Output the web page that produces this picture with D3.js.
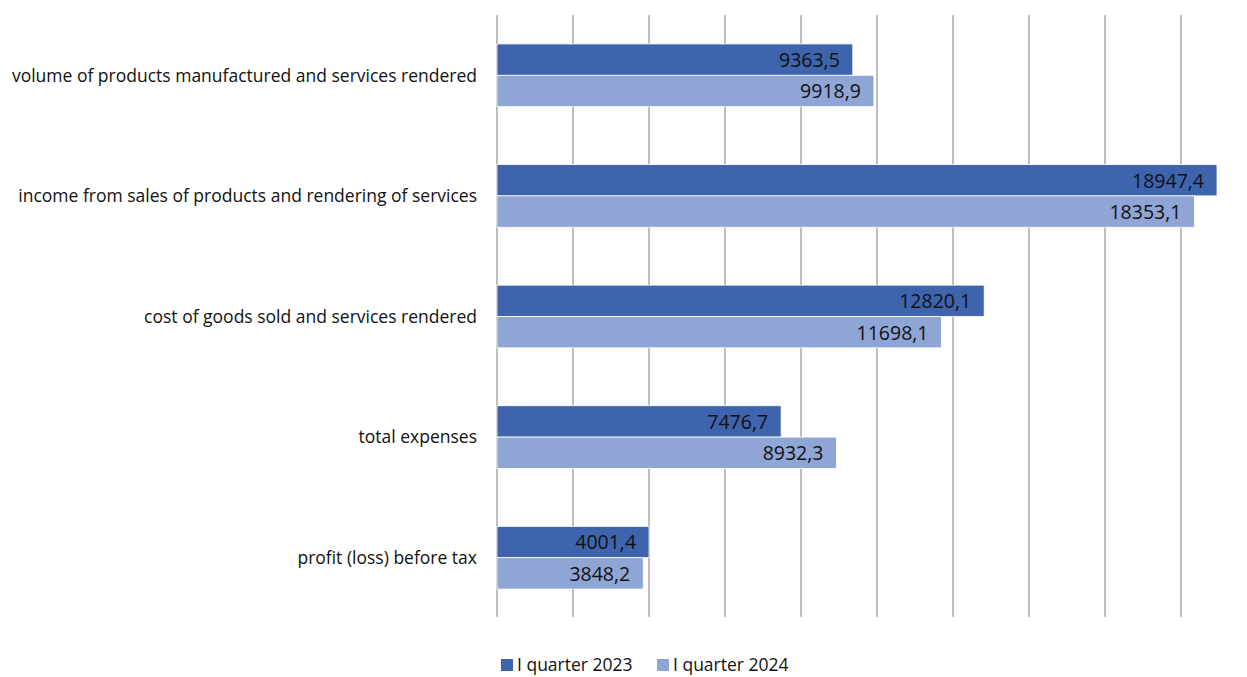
<!DOCTYPE html>
<html>
<head>
<meta charset="utf-8">
<script src="https://cdn.jsdelivr.net/npm/d3@7"></script>
<style>
  body { margin: 0; background: #fff; overflow: hidden; }
  text { font-family: "Open Sans", "Noto Sans", sans-serif; fill: #111; }
</style>
</head>
<body>
<div id="chart"></div>
<script>
const categories = [
  "volume of products manufactured and services rendered",
  "income from sales of products and rendering of services",
  "cost of goods sold and services rendered",
  "total expenses",
  "profit (loss) before tax"
];
const seriesNames = ["I quarter 2023", "I quarter 2024"];
const q2023 = [9363.5, 18947.4, 12820.1, 7476.7, 4001.4];
const q2024 = [9918.9, 18353.1, 11698.1, 8932.3, 3848.2];
const gridTicks = [0, 2000, 4000, 6000, 8000, 10000, 12000, 14000, 16000, 18000, 20000];

const colors = ["#3d64ad", "#8fa5d6"];
const width = 1247, height = 677;
const margin = { top: 15, left: 497, bottom: 60 };

const svg = d3.select("#chart").append("svg")
  .attr("width", width).attr("height", height);

const xScale = d3.scaleLinear()
  .domain([0, 20000])
  .range([margin.left, margin.left + 760]);

const yScale = d3.scaleBand()
  .domain(categories)
  .range([margin.top, 618])
  .paddingInner(0.48)
  .paddingOuter(0.24);

const inner = d3.scaleBand()
  .domain([0, 1])
  .range([0, yScale.bandwidth()]);

// vertical gridlines
svg.append("g")
  .selectAll("line")
  .data(gridTicks)
  .join("line")
  .attr("x1", d => xScale(d)).attr("x2", d => xScale(d))
  .attr("y1", margin.top).attr("y2", 617)
  .attr("stroke", "#9a9a9a")
  .attr("stroke-width", 1.3);

const rows = categories.map((c, i) => ({ cat: c, vals: [q2023[i], q2024[i]] }));

const group = svg.append("g")
  .selectAll("g")
  .data(rows)
  .join("g")
  .attr("transform", d => `translate(0,${yScale(d.cat)})`);

group.selectAll("rect")
  .data(d => d.vals.map((v, k) => ({ v, k })))
  .join("rect")
  .attr("x", xScale(0))
  .attr("y", d => inner(d.k))
  .attr("width", d => xScale(d.v) - xScale(0))
  .attr("height", inner.bandwidth())
  .attr("fill", d => colors[d.k])
  .attr("stroke", "#fff")
  .attr("stroke-width", 0.8);

const fmt = v => v.toFixed(1).replace(".", ",");

group.selectAll("text.val")
  .data(d => d.vals.map((v, k) => ({ v, k })))
  .join("text")
  .attr("class", "val")
  .attr("x", d => xScale(d.v) - 13)
  .attr("y", d => inner(d.k) + inner.bandwidth() / 2)
  .attr("dy", "0.38em")
  .attr("text-anchor", "end")
  .attr("font-size", 19.5)
  .text(d => fmt(d.v));

// category labels
svg.append("g")
  .selectAll("text")
  .data(categories)
  .join("text")
  .attr("x", margin.left - 20)
  .attr("y", d => yScale(d) + yScale.bandwidth() / 2)
  .attr("dy", "0.36em")
  .attr("text-anchor", "end")
  .attr("font-size", 17.5)
  .text(d => d);

// legend
const legendX = [501, 657];
const legend = svg.append("g")
  .selectAll("g")
  .data(seriesNames)
  .join("g")
  .attr("transform", (d, i) => `translate(${legendX[i]},659)`);

legend.append("rect")
  .attr("width", 12).attr("height", 12)
  .attr("fill", (d, i) => colors[i]);

legend.append("text")
  .attr("x", 16).attr("y", 6)
  .attr("dy", "0.36em")
  .attr("font-size", 17.5)
  .text(d => d);
</script>
</body>
</html>
